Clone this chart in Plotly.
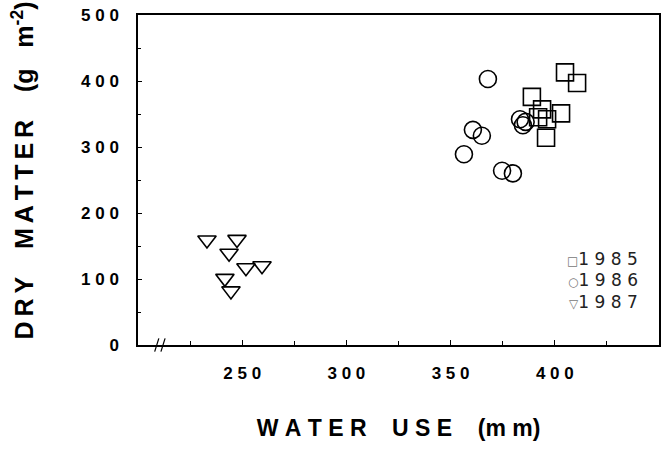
import plotly.graph_objects as go

# 1985 (squares)
x1985 = [404.9, 410.7, 389.0, 393.9, 403.0, 392.0, 396.3, 395.8]
y1985 = [413, 397, 376, 357, 351, 345, 342, 314]
# 1986 (circles)
x1986 = [367.9, 360.7, 365.0, 356.4, 374.7, 379.9, 383.3, 384.7, 386.0]
y1986 = [403, 326, 317, 289, 264, 260, 342, 333, 338]
# 1987 (triangles)
x1987 = [233.1, 247.5, 243.7, 251.8, 259.5, 241.7, 244.6]
y1987 = [159, 160, 139, 117, 120, 101, 82]

xticks = [250, 300, 350, 400]
yticks = [0, 100, 200, 300, 400, 500]
legend_symbols = ["\u25a1", "\u25cb", "\u25bd"]
legend_years = ["1985", "1986", "1987"]

NB = "\u00a0"


def spaced(s, sep):
    return sep.join(s)


fig = go.Figure()
mk = dict(color="black", line=dict(color="black", width=1.6))
fig.add_trace(go.Scatter(x=x1985, y=y1985, mode="markers", name="1985",
                         marker=dict(symbol="square-open", size=17, **mk)))
fig.add_trace(go.Scatter(x=x1986, y=y1986, mode="markers", name="1986",
                         marker=dict(symbol="circle-open", size=17, **mk)))
fig.add_trace(go.Scatter(x=x1987, y=y1987, mode="markers", name="1987",
                         marker=dict(symbol="triangle-down-open", size=16, **mk)))

tickfont = dict(family="Liberation Sans, Arial", size=17, color="black")
xtitle = (spaced("WATER", NB) + NB * 4 + spaced("USE", NB) + NB * 4 +
          "(" + spaced("mm", NB) + ")")
ytitle = (NB * 2 + "\u2009" + spaced("DRY", "\u2009") + NB * 4 + spaced("MATTER", "\u2009") +
          NB * 4 + "(g" + NB * 3 + "m<sup>-2</sup>)")

fig.update_xaxes(range=[200, 450], showline=True, mirror=True, linecolor="black",
                 linewidth=1.5, showgrid=False, zeroline=False, automargin=False,
                 tickvals=xticks,
                 ticktext=["<b>" + spaced(str(v), NB) + "</b>" for v in xticks],
                 ticks="inside", ticklen=5, tickcolor="black",
                 minor=dict(ticks="inside", dtick=25, ticklen=4, tickcolor="black"),
                 tickfont=tickfont, ticklabelstandoff=12,
                 title=dict(text="<b>" + xtitle + "</b>",
                            font=dict(family="Liberation Sans, Arial", size=23, color="black"),
                            standoff=38))
fig.update_yaxes(range=[0, 500], showline=True, mirror=True, linecolor="black",
                 linewidth=1.5, showgrid=False, zeroline=False, automargin=False,
                 tickvals=yticks,
                 ticktext=["<b>" + spaced(str(v), NB) + "</b>" for v in yticks],
                 ticks="inside", ticklen=4, tickcolor="black",
                 minor=dict(ticks="inside", dtick=50, ticklen=3, tickcolor="black"),
                 tickfont=tickfont, ticklabelstandoff=14,
                 title=dict(text="<b>" + ytitle + "</b>",
                            font=dict(family="Liberation Sans, Arial", size=25, color="black"),
                            standoff=40))

# axis break marks
for dx in (0, 3):
    fig.add_shape(type="line", xref="x", yref="paper", x0=208 + dx, x1=210 + dx,
                  y0=-0.02, y1=0.02, line=dict(color="black", width=1.2))

for i, (s, yr) in enumerate(zip(legend_symbols, legend_years)):
    fig.add_annotation(text="<span style='font-size:12px;color:#777'>" + s + "</span>" +
                            spaced(yr, NB),
                       xref="paper", yref="paper",
                       x=0.9635, y=0.261 - i * 0.0655,
                       xanchor="right", yanchor="middle", showarrow=False,
                       font=dict(family="DejaVu Sans, Liberation Sans", size=17, color="#222"))

fig.update_layout(width=664, height=456, margin=dict(l=138, r=5, t=15, b=111),
                  plot_bgcolor="white", paper_bgcolor="white", showlegend=False)
fig.write_html("out.html", config={"displayModeBar": False},
               post_script="document.body.style.margin='0';document.body.style.padding='0';")
